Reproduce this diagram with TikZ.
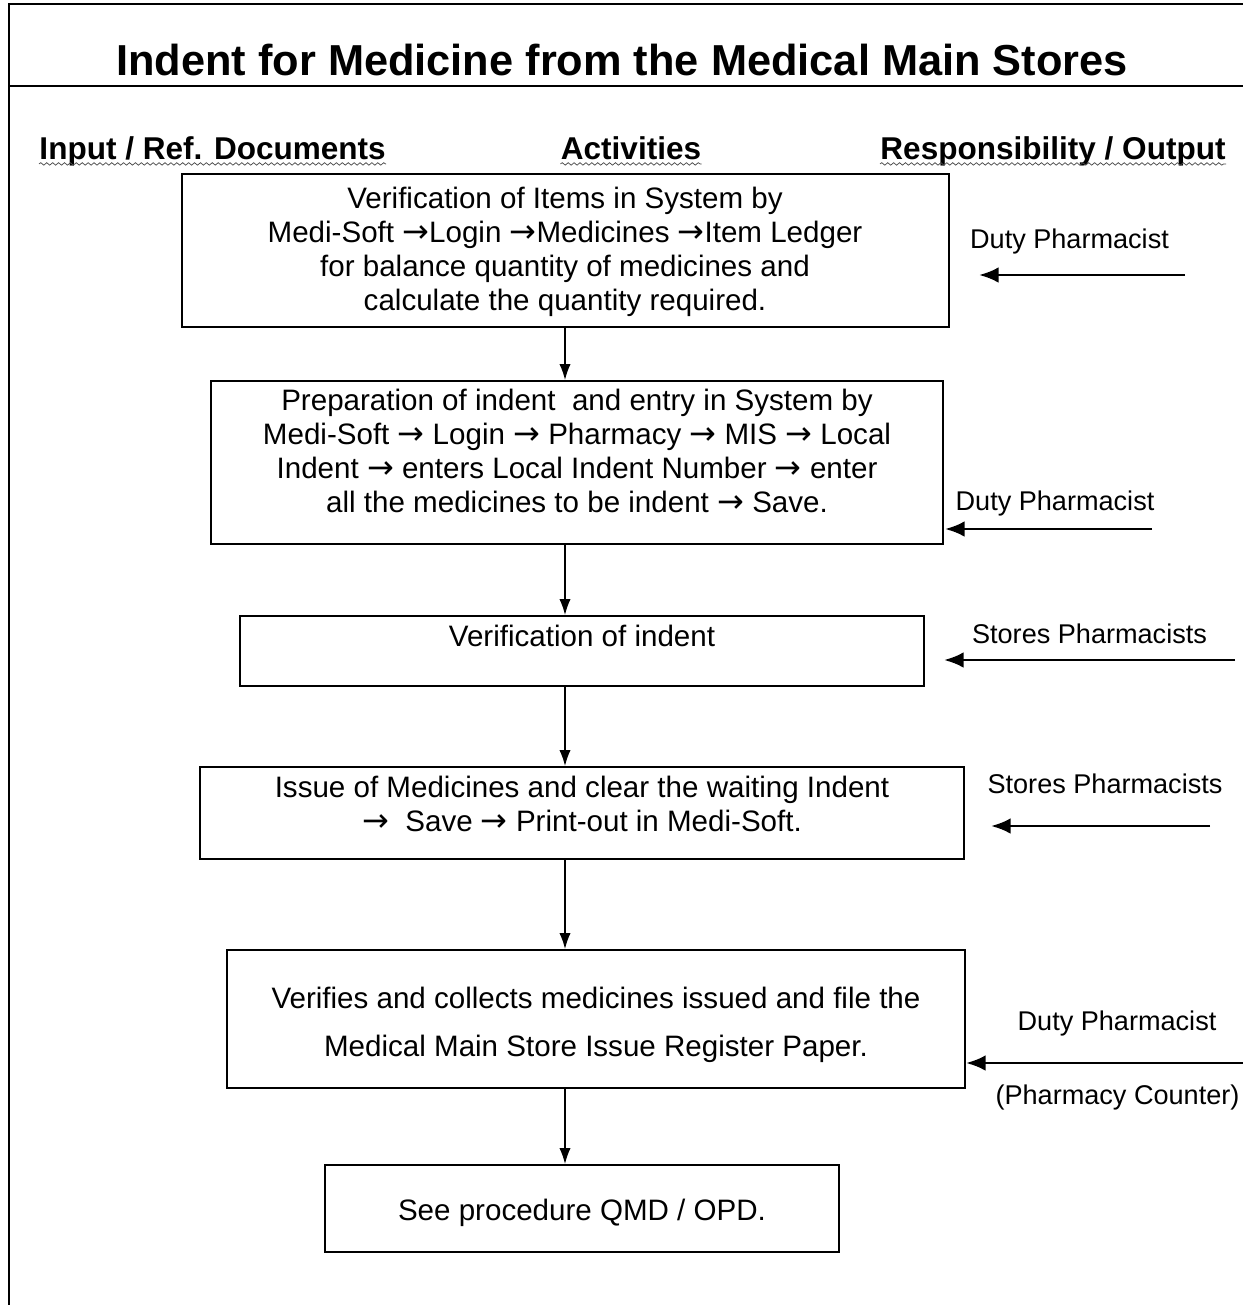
\documentclass[tikz,border=0pt]{standalone}
\usepackage{fontspec}
\setmainfont{Liberation Sans}
\newfontfamily\arrowfont{DejaVu Sans}
\usetikzlibrary{arrows.meta,decorations.pathmorphing}

\newcommand{\px}{0.406pt}
\newcommand{\nextstep}{{\arrowfont\fontsize{13}{13.8}\selectfont →}}

\tikzset{
  box/.style={draw, line width=0.8pt, inner sep=0pt},
  boxtext/.style={align=center, inner sep=0pt, font=\fontsize{12}{13.8}\selectfont},
  role/.style={inner sep=0pt, font=\fontsize{11}{13}\selectfont},
  head/.style={inner sep=0pt, font=\fontsize{12.8}{15}\selectfont\bfseries},
  squiggle/.style={decorate, decoration={snake, amplitude=0.5pt, segment length=2.4pt}, line width=0.3pt, black!70},
  flow/.style={-{Latex[length=6.5pt,width=4.6pt]}, line width=0.6pt},
  feed/.style={-{Latex[length=8pt,width=6.4pt]}, line width=1.2pt},
}

\begin{document}
\begin{tikzpicture}[x=0.406pt, y=-0.406pt]
  \useasboundingbox (0,0) rectangle (1243,1305);

  \draw[line width=1.2pt] (1243,4) -- (9,4) -- (9,1305);
  \draw[line width=1.2pt] (9,86) -- (1243,86);
  \node[anchor=base, inner sep=0pt, font=\fontsize{17.6}{20}\selectfont\bfseries] (title) at (622,75) {Indent for Medicine from the Medical Main Stores};

  \node[head, anchor=base west] (hin)  at (39,159)   {Input / Ref. Documents};
  \node[head, anchor=base]      (hact) at (631,159)  {Activities};
  \node[head, anchor=base east] (hout) at (1226,159) {Responsibility / Output};
  \foreach \h in {hin,hact,hout}
    \draw[squiggle] ([yshift=-2pt]\h.base west) -- ([yshift=-2pt]\h.base east);

  % activity boxes
  \node[box, minimum width=767*\px, minimum height=153*\px] (b1) at (565.5,250.5) {};
  \node[box, minimum width=732*\px, minimum height=163*\px] (b2) at (577,462.5)   {};
  \node[box, minimum width=684*\px, minimum height=70*\px]  (b3) at (582,651)     {};
  \node[box, minimum width=764*\px, minimum height=92*\px]  (b4) at (582,813)     {};
  \node[box, minimum width=738*\px, minimum height=138*\px] (b5) at (596,1019)    {};
  \node[box, minimum width=514*\px, minimum height=87*\px]  (b6) at (582,1208.5)  {};

  \node[boxtext] (t1) at (565,252) {Verification of Items in System by\\Medi-Soft \nextstep Login \nextstep Medicines \nextstep Item Ledger\\for balance quantity of medicines and\\calculate the quantity required.};
  \node[boxtext] (t2) at (577,451) {Preparation of indent \ and entry in System by\\Medi-Soft \nextstep{} Login \nextstep{} Pharmacy \nextstep{} MIS \nextstep{} Local\\Indent \nextstep{} enters Local Indent Number \nextstep{} enter\\all the medicines to be indent \nextstep{} Save.};
  \node[boxtext] (t3) at (582,636) {Verification of indent};
  \node[boxtext] (t4) at (582,803.5) {Issue of Medicines and clear the waiting Indent\\{}\nextstep{} \ Save \nextstep{} Print-out in Medi-Soft.};
  \node[boxtext, font=\fontsize{12}{19.5}\selectfont] (t5) at (596,1025) {Verifies and collects medicines issued and file the\\Medical Main Store Issue Register Paper.};
  \node[boxtext] (t6) at (582,1213) {See procedure QMD / OPD.};

  \coordinate (spine) at (565,0);
  \foreach \a/\b in {b1/b2,b2/b3,b3/b4,b4/b5,b5/b6}
    \draw[flow] (\a.south -| spine) -- (\b.north -| spine);

  % responsibility
  \node[role] (r1) at (1069.5,241) {Duty Pharmacist};
  \node[role] (r2) at (1055,503)   {Duty Pharmacist};
  \node[role] (r3) at (1089.5,634) {Stores Pharmacists};
  \node[role] (r4) at (1105,784)   {Stores Pharmacists};
  \node[role] (r5) at (1117,1023)  {Duty Pharmacist};
  \node[role] (r6) at (1117.5,1097) {(Pharmacy Counter)};

  \coordinate (f1) at (1185,275);
  \coordinate (f2) at (1152,529);
  \coordinate (f3) at (1235,660);
  \coordinate (f4) at (1210,826);
  \coordinate (f5) at (1243,1063);
  \foreach \f/\b/\g in {f1/b1/29, f2/b2/1, f3/b3/19, f4/b4/26, f5/b5/0}
    \draw[feed, shorten >=\g*\px] (\f) -- (\f -| \b.east);
\end{tikzpicture}
\end{document}
